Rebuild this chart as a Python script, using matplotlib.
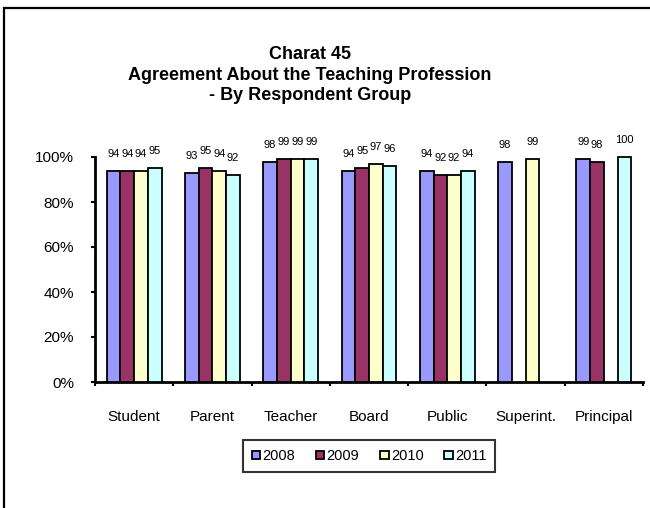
import numpy as np
import matplotlib
matplotlib.use("Agg")
import matplotlib.pyplot as plt
import matplotlib.patches as patches

plt.rcParams['font.family'] = ['Liberation Sans', 'DejaVu Sans']

groups = ['Student', 'Parent', 'Teacher', 'Board', 'Public', 'Superint.', 'Principal']
years = ['2008', '2009', '2010', '2011']
v2008 = [94, 93, 98, 94, 94, 98, 99]
v2009 = [94, 95, 99, 95, 92, None, 98]
v2010 = [94, 94, 99, 97, 92, 99, None]
v2011 = [95, 92, 99, 96, 94, None, 100]
colors = ['#9999FF', '#993366', '#FFFFCC', '#CCFFFF']

series = [v2008, v2009, v2010, v2011]

fig = plt.figure(figsize=(6.5, 5.08), dpi=100)
ax = fig.add_axes([95/650, 1 - 382/508, 548/650, 225/508])

# frame around the whole chart area (left/top edges show)
fig.patches.append(patches.Rectangle((4/650, -0.05), 1.2, 1 - 8/508 + 0.05,
                                     transform=fig.transFigure, fill=False,
                                     edgecolor='black', linewidth=1.6))

x = np.arange(len(groups))
bw = 0.1756
for i, (vals, col) in enumerate(zip(series, colors)):
    xs = x + (i - 1.5) * bw
    for xi, v in zip(xs, vals):
        if v is None:
            continue
        ax.bar(xi, v, width=bw, color=col, edgecolor='black', linewidth=1.3,
               clip_on=False, zorder=3)
        ax.text(xi, v + 7.5, str(v), ha='center', va='center', fontsize=8)

# invisible handles for the legend
for y, col in zip(years, colors):
    ax.bar(0, 0, color=col, edgecolor='black', linewidth=1.3, label=y)

ax.set_xlim(-0.5, len(groups) - 0.5)
ax.set_ylim(0, 100)
ax.set_yticks(np.arange(0, 101, 20))
ax.set_yticklabels(['%d%%' % t for t in range(0, 101, 20)], fontsize=11)
ax.set_xticks(np.arange(-0.5, len(groups), 1))
ax.set_xticklabels([])
ax.set_xticks(x, minor=True)
ax.set_xticklabels(groups, minor=True, fontsize=11)
ax.tick_params(axis='x', which='minor', length=0, pad=20)
ax.tick_params(axis='x', which='major', length=3, width=1.5, direction='out')
ax.tick_params(axis='y', length=3, width=1.5, direction='out', pad=12)

for s in ['top', 'right']:
    ax.spines[s].set_visible(False)
for s in ['left', 'bottom']:
    ax.spines[s].set_linewidth(2)

fig.text(310/650, 1 - 75/508, 'Charat 45\nAgreement About the Teaching Profession\n- By Respondent Group',
         ha='center', va='center', fontsize=13, fontweight='bold', linespacing=1.25)

leg = ax.legend(loc='center', bbox_to_anchor=(369/650, 1 - 456/508),
                bbox_transform=fig.transFigure, ncol=4, fontsize=10.5,
                frameon=True, fancybox=False, edgecolor='black',
                handlelength=0.6, handleheight=0.5, handletextpad=0.15,
                columnspacing=1.4, borderpad=0.6)
leg.get_frame().set_linewidth(1.5)

fig.savefig('out.png', dpi=100)
